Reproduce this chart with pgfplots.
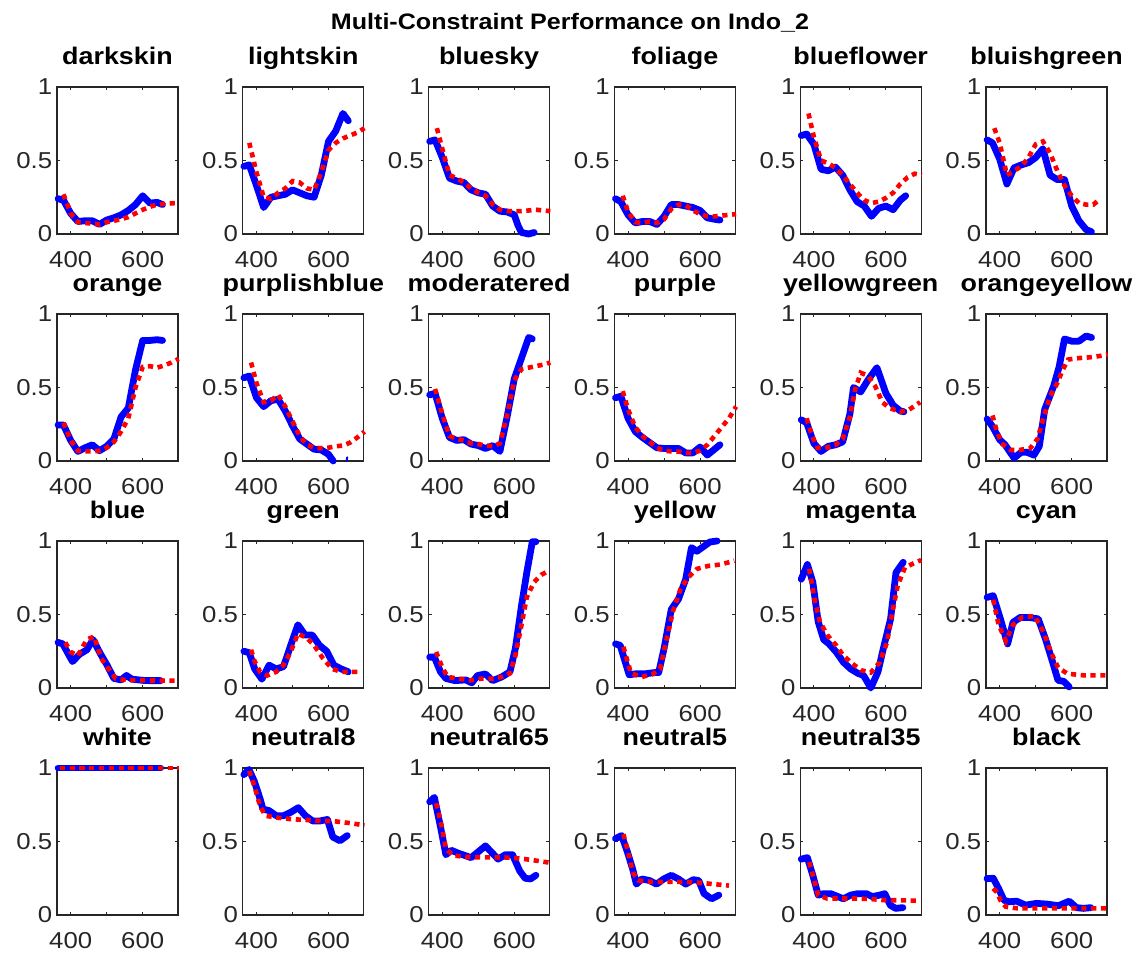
\documentclass[border=0pt]{standalone}
\usepackage{pgfplots}
\pgfplotsset{compat=1.18}
\usepackage{fontspec}
\setmainfont{Liberation Sans}[FakeStretch=1.12]
\definecolor{axgray}{rgb}{0.15,0.15,0.15}
\pgfplotsset{
  panel/.style={
    scale only axis, width=60.5pt, height=73.5pt, anchor=south west,
    xmin=362, xmax=698, ymin=0, ymax=1,
    xtick={400,500,600}, xticklabels={400,,600},
    ytick={0,0.5,1}, yticklabels={0,0.5,1},
    tick align=inside, tick pos=both, major tick length=1.6pt,
    axis line style={draw=axgray, line width=0.55pt},
    every tick/.style={draw=axgray, line width=0.5pt},
    /pgf/number format/assume math mode=true,
    ticklabel style={font=\fontsize{11.5}{13}\selectfont, text=axgray},
    xticklabel style={anchor=north, inner sep=0pt, yshift=-8.3pt},
    yticklabel style={anchor=east, inner sep=0pt, xshift=-2.2pt},
    title style={font=\bfseries\fontsize{12}{14}\selectfont, anchor=base, at={(0.5,1)}, yshift=5pt, inner sep=0pt},
    clip=false,
  },
  bl/.style={color={rgb,1:red,0;green,0;blue,1}, line width=3.4pt, line join=round, line cap=round},
  rd/.style={color={rgb,1:red,1;green,0;blue,0}, line width=2.3pt, dash pattern=on 2.6pt off 2.3pt},
}
\newcommand{\panel}[5]{%
\begin{axis}[panel, at={({(57+185.8*#1)*0.5pt},{(723-227*#2)*0.5pt})}, title={#3}]
\addplot[bl] coordinates {#4};
\addplot[rd] coordinates {#5};
\end{axis}}
\begin{document}
\begin{tikzpicture}
\path[use as bounding box] (0,0) rectangle (568.5pt,478.5pt);
\node[font=\bfseries\fontsize{11.2}{14}\selectfont, anchor=base, inner sep=0pt] at (285pt,463.5pt) {Multi-Constraint Performance on Indo\_2};
% row 0
\panel{0}{0}{darkskin}{(365,0.24)(380,0.23)(400,0.14)(420,0.085)(440,0.09)(460,0.09)(480,0.065)(500,0.095)(520,0.11)(540,0.13)(560,0.16)(580,0.2)(600,0.26)(620,0.21)(640,0.215)(655,0.2)}{(380,0.27)(400,0.14)(420,0.08)(440,0.075)(460,0.07)(480,0.065)(500,0.08)(520,0.09)(540,0.1)(560,0.115)(580,0.14)(600,0.165)(620,0.185)(640,0.2)(660,0.205)(690,0.21)}
\panel{1}{0}{lightskin}{(365,0.46)(380,0.47)(400,0.33)(420,0.18)(440,0.25)(460,0.26)(480,0.27)(500,0.3)(520,0.28)(540,0.26)(560,0.25)(580,0.4)(600,0.63)(620,0.7)(640,0.82)(655,0.77)}{(380,0.62)(400,0.42)(420,0.25)(440,0.24)(460,0.28)(480,0.31)(500,0.36)(520,0.35)(540,0.31)(560,0.3)(580,0.42)(600,0.57)(620,0.62)(640,0.65)(660,0.67)(680,0.69)(700,0.72)}
\panel{2}{0}{bluesky}{(365,0.63)(380,0.64)(400,0.52)(420,0.38)(440,0.36)(460,0.35)(480,0.3)(500,0.28)(520,0.27)(540,0.19)(560,0.155)(580,0.15)(600,0.13)(610,0.06)(620,0.01)(640,0.0)(655,0.01)}{(385,0.72)(400,0.58)(420,0.4)(440,0.38)(460,0.35)(480,0.31)(500,0.28)(520,0.26)(540,0.2)(560,0.165)(580,0.155)(600,0.155)(620,0.155)(640,0.16)(660,0.165)(680,0.16)(700,0.155)}
\panel{3}{0}{foliage}{(365,0.24)(380,0.22)(400,0.13)(420,0.075)(440,0.085)(460,0.085)(480,0.065)(500,0.12)(520,0.2)(540,0.2)(560,0.19)(580,0.18)(600,0.16)(620,0.11)(640,0.1)(655,0.095)}{(385,0.26)(400,0.15)(420,0.08)(440,0.075)(460,0.085)(480,0.075)(500,0.1)(520,0.17)(540,0.2)(560,0.195)(580,0.16)(600,0.135)(620,0.12)(640,0.12)(660,0.125)(680,0.13)(700,0.135)}
\panel{4}{0}{blueflower}{(365,0.67)(380,0.68)(400,0.61)(420,0.44)(440,0.43)(460,0.455)(480,0.4)(500,0.3)(520,0.22)(540,0.19)(560,0.12)(580,0.175)(600,0.19)(620,0.165)(640,0.23)(655,0.26)}{(385,0.82)(400,0.66)(420,0.5)(440,0.48)(460,0.45)(480,0.4)(500,0.34)(520,0.28)(540,0.23)(560,0.21)(580,0.22)(600,0.245)(620,0.28)(640,0.34)(660,0.385)(680,0.41)(700,0.4)}
\panel{5}{0}{bluishgreen}{(365,0.64)(380,0.62)(400,0.51)(420,0.34)(440,0.45)(460,0.47)(480,0.485)(500,0.52)(520,0.58)(540,0.4)(560,0.37)(580,0.37)(600,0.19)(620,0.09)(640,0.03)(655,0.015)}{(385,0.72)(400,0.62)(420,0.4)(440,0.43)(460,0.46)(480,0.52)(500,0.61)(520,0.63)(540,0.55)(560,0.43)(580,0.33)(600,0.26)(620,0.21)(640,0.2)(660,0.2)(680,0.24)}
% row 1
\panel{0}{1}{orange}{(365,0.245)(380,0.245)(400,0.14)(420,0.065)(440,0.09)(460,0.11)(480,0.07)(500,0.1)(520,0.15)(540,0.3)(560,0.36)(580,0.62)(600,0.82)(620,0.82)(640,0.825)(655,0.82)}{(380,0.26)(400,0.14)(420,0.07)(440,0.065)(460,0.065)(480,0.07)(500,0.09)(520,0.13)(540,0.2)(560,0.29)(580,0.5)(600,0.64)(620,0.645)(640,0.635)(660,0.65)(680,0.67)(700,0.695)}
\begin{axis}[panel, at={({(57+185.8*1)*0.5pt},{(723-227*1)*0.5pt})}, title={purplishblue}]
\addplot[bl] coordinates {(365,0.566)(380,0.578)(400,0.43)(420,0.37)(440,0.41)(460,0.42)(480,0.34)(500,0.24)(520,0.15)(540,0.115)(560,0.08)(580,0.075)(600,0.045)(613,0.0)};
\addplot[bl, line width=1pt] coordinates {(650,0.0)(652,0.025)};
\addplot[rd] coordinates {(385,0.67)(400,0.53)(420,0.4)(440,0.41)(460,0.45)(480,0.37)(500,0.27)(520,0.17)(540,0.11)(560,0.09)(580,0.087)(600,0.09)(620,0.1)(640,0.105)(660,0.125)(680,0.16)(700,0.2)};
\end{axis}
\panel{2}{1}{moderatered}{(365,0.45)(380,0.46)(400,0.29)(420,0.16)(440,0.14)(460,0.145)(480,0.115)(500,0.105)(520,0.085)(540,0.105)(560,0.065)(580,0.3)(600,0.56)(620,0.7)(640,0.84)(650,0.83)}{(380,0.49)(400,0.32)(420,0.17)(440,0.15)(460,0.14)(480,0.12)(500,0.115)(520,0.105)(540,0.1)(560,0.12)(580,0.31)(600,0.55)(620,0.625)(640,0.635)(660,0.645)(680,0.655)(700,0.67)}
\panel{3}{1}{purple}{(365,0.43)(380,0.44)(400,0.29)(420,0.2)(440,0.16)(460,0.125)(480,0.09)(500,0.085)(520,0.085)(540,0.085)(560,0.055)(580,0.055)(600,0.095)(620,0.04)(640,0.08)(655,0.11)}{(385,0.475)(400,0.35)(420,0.23)(440,0.17)(460,0.13)(480,0.09)(500,0.07)(520,0.065)(540,0.064)(560,0.055)(580,0.055)(600,0.07)(620,0.11)(640,0.17)(660,0.23)(680,0.29)(700,0.37)}
\panel{4}{1}{yellowgreen}{(365,0.28)(380,0.26)(400,0.12)(420,0.065)(440,0.1)(460,0.11)(480,0.13)(500,0.32)(510,0.5)(530,0.47)(550,0.55)(575,0.635)(600,0.46)(620,0.38)(640,0.34)(650,0.335)}{(380,0.29)(395,0.17)(410,0.09)(430,0.087)(460,0.11)(480,0.15)(500,0.3)(515,0.49)(530,0.6)(550,0.58)(570,0.51)(590,0.4)(610,0.36)(640,0.335)(665,0.35)(695,0.4)}
\panel{5}{1}{orangeyellow}{(365,0.285)(380,0.235)(400,0.145)(415,0.11)(440,0.02)(460,0.06)(475,0.06)(495,0.04)(510,0.1)(525,0.35)(550,0.51)(565,0.64)(580,0.83)(600,0.815)(620,0.815)(640,0.85)(655,0.84)}{(380,0.31)(390,0.22)(405,0.12)(430,0.075)(455,0.075)(485,0.087)(505,0.15)(520,0.28)(540,0.44)(560,0.53)(575,0.62)(590,0.69)(620,0.7)(650,0.705)(680,0.715)(700,0.725)}
% row 2
\panel{0}{2}{blue}{(365,0.31)(378,0.3)(405,0.18)(425,0.23)(445,0.26)(462,0.33)(482,0.235)(500,0.16)(520,0.065)(540,0.055)(555,0.085)(570,0.06)(600,0.052)(620,0.05)(650,0.05)}{(385,0.31)(400,0.245)(420,0.22)(445,0.33)(465,0.35)(485,0.2)(505,0.13)(525,0.064)(550,0.055)(600,0.052)(650,0.05)(700,0.05)}
\panel{1}{2}{green}{(365,0.25)(380,0.24)(395,0.13)(415,0.06)(435,0.155)(455,0.13)(475,0.145)(495,0.29)(515,0.43)(535,0.36)(555,0.36)(575,0.29)(595,0.25)(615,0.155)(635,0.13)(655,0.11)}{(385,0.26)(395,0.18)(410,0.11)(430,0.085)(455,0.11)(475,0.155)(495,0.245)(515,0.37)(540,0.34)(560,0.29)(585,0.2)(610,0.13)(635,0.11)(680,0.11)}
\panel{2}{2}{red}{(365,0.21)(378,0.21)(395,0.11)(410,0.065)(435,0.05)(465,0.055)(482,0.035)(498,0.085)(520,0.095)(540,0.05)(565,0.075)(588,0.11)(603,0.27)(620,0.56)(635,0.79)(650,0.995)(660,0.995)}{(383,0.245)(400,0.14)(415,0.075)(445,0.064)(477,0.052)(510,0.064)(540,0.064)(565,0.075)(588,0.1)(603,0.22)(620,0.43)(635,0.62)(655,0.72)(675,0.77)(698,0.8)}
\panel{3}{2}{yellow}{(365,0.3)(378,0.29)(403,0.09)(423,0.097)(449,0.097)(474,0.105)(485,0.105)(500,0.27)(520,0.535)(540,0.605)(560,0.74)(576,0.955)(591,0.93)(611,0.965)(627,0.993)(647,1.0)}{(387,0.28)(408,0.1)(438,0.075)(469,0.095)(489,0.13)(505,0.31)(525,0.525)(545,0.67)(566,0.75)(591,0.81)(622,0.83)(657,0.84)(695,0.865)}
\panel{4}{2}{magenta}{(365,0.74)(382,0.84)(397,0.72)(412,0.45)(427,0.33)(442,0.3)(462,0.245)(482,0.175)(502,0.13)(522,0.1)(538,0.085)(558,0.0)(578,0.11)(593,0.27)(613,0.47)(628,0.785)(648,0.855)}{(387,0.81)(402,0.6)(417,0.45)(437,0.36)(462,0.29)(482,0.22)(507,0.165)(532,0.12)(558,0.105)(583,0.175)(603,0.31)(618,0.515)(633,0.7)(653,0.82)(683,0.855)(698,0.87)}
\panel{5}{2}{cyan}{(365,0.616)(382,0.628)(402,0.47)(422,0.3)(437,0.447)(457,0.48)(482,0.48)(507,0.47)(527,0.335)(547,0.176)(562,0.052)(578,0.045)(593,0.007)}{(382,0.6)(397,0.43)(417,0.32)(437,0.43)(462,0.48)(497,0.49)(522,0.38)(542,0.245)(562,0.14)(588,0.097)(633,0.086)(698,0.086)}
% row 3
\panel{0}{3}{white}{(365,1)(400,1)(500,1)(600,1)(650,1)}{(370,1)(400,1)(500,1)(600,1)(700,1)}
\panel{1}{3}{neutral8}{(365,0.955)(379,0.99)(394,0.91)(410,0.79)(418,0.72)(435,0.71)(455,0.675)(475,0.675)(496,0.7)(516,0.73)(536,0.675)(556,0.64)(577,0.64)(597,0.65)(612,0.53)(632,0.505)(652,0.54)}{(380,0.98)(395,0.87)(410,0.74)(425,0.675)(455,0.663)(495,0.652)(535,0.647)(575,0.64)(615,0.638)(660,0.625)(700,0.61)}
\panel{2}{3}{neutral65}{(365,0.77)(378,0.8)(395,0.6)(410,0.41)(425,0.44)(445,0.42)(480,0.39)(520,0.47)(555,0.38)(575,0.41)(595,0.41)(615,0.3)(630,0.25)(645,0.245)(660,0.27)}{(383,0.76)(398,0.61)(410,0.45)(430,0.405)(465,0.395)(505,0.392)(550,0.392)(590,0.39)(630,0.38)(660,0.37)(700,0.355)}
\panel{3}{3}{neutral5}{(365,0.52)(382,0.54)(398,0.43)(413,0.31)(423,0.21)(438,0.245)(459,0.235)(479,0.21)(499,0.245)(520,0.27)(540,0.245)(560,0.21)(581,0.24)(596,0.235)(611,0.145)(632,0.11)(652,0.135)}{(387,0.55)(403,0.4)(413,0.29)(428,0.235)(465,0.225)(505,0.225)(545,0.225)(585,0.222)(625,0.213)(680,0.2)}
\panel{4}{3}{neutral35}{(365,0.38)(382,0.39)(397,0.27)(412,0.135)(427,0.145)(447,0.145)(467,0.125)(482,0.11)(502,0.135)(522,0.145)(546,0.145)(562,0.125)(582,0.135)(597,0.145)(612,0.067)(627,0.045)(647,0.05)}{(387,0.36)(402,0.225)(412,0.135)(437,0.112)(480,0.112)(520,0.112)(560,0.108)(600,0.1)(640,0.1)(685,0.097)}
\panel{5}{3}{black}{(365,0.247)(382,0.25)(397,0.18)(412,0.1)(427,0.09)(447,0.094)(472,0.067)(502,0.079)(532,0.074)(563,0.063)(593,0.094)(613,0.05)(633,0.045)(653,0.05)}{(382,0.18)(392,0.155)(402,0.1)(417,0.056)(450,0.045)(700,0.045)}
\end{tikzpicture}
\end{document}
